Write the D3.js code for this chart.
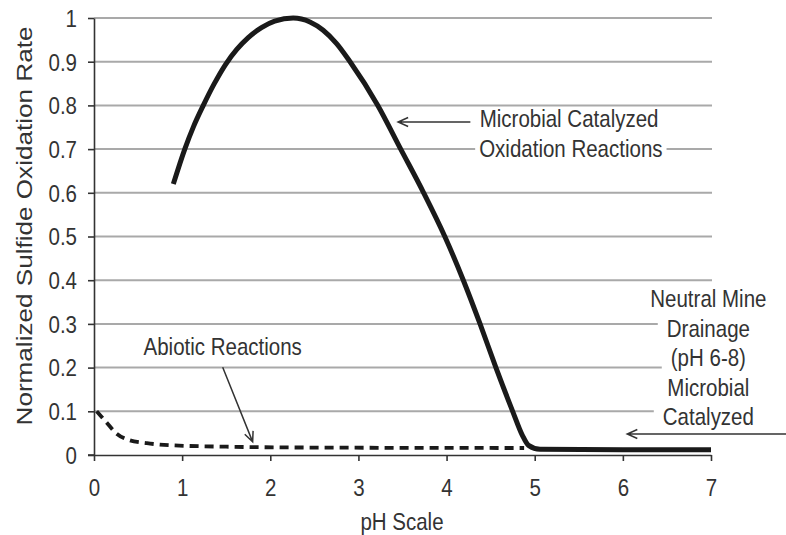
<!DOCTYPE html>
<html><head><meta charset="utf-8">
<script src="https://cdn.jsdelivr.net/npm/d3@7/dist/d3.min.js"></script>
<style>
html,body{margin:0;padding:0;background:#fff;}
svg{display:block;font-family:"Liberation Sans",Arial,Helvetica,sans-serif;}
</style></head>
<body>
<svg id="chart" width="786" height="535"></svg>
<script>
// ---- data ----
const xTicks = [0, 1, 2, 3, 4, 5, 6, 7];
const yTicks = [0, 0.1, 0.2, 0.3, 0.4, 0.5, 0.6, 0.7, 0.8, 0.9, 1];
const yTickLabels = ["0", "0.1", "0.2", "0.3", "0.4", "0.5", "0.6", "0.7", "0.8", "0.9", "1"];
const microbialPH   = [0.9, 1.03, 1.13, 1.24, 1.36, 1.49, 1.62, 1.75, 1.9, 2.05, 2.26, 2.45, 2.6, 2.75, 2.905, 3.22, 3.48, 3.74, 3.98, 4.19, 4.38, 4.56, 4.75, 4.86, 4.93, 5.06, 6.0, 7.0];
const microbialRate = [0.62, 0.70, 0.752, 0.80, 0.848, 0.893, 0.928, 0.955, 0.978, 0.993, 1.0, 0.991, 0.972, 0.942, 0.90, 0.80, 0.70, 0.60, 0.50, 0.40, 0.30, 0.20, 0.10, 0.045, 0.022, 0.013, 0.012, 0.012];
const abioticPH   = [0.03, 0.14, 0.25, 0.4, 0.6, 0.9, 1.5, 2.5, 4.88];
const abioticRate = [0.10, 0.075, 0.05, 0.034, 0.027, 0.022, 0.019, 0.017, 0.016];
const xTitle = "pH Scale";
const yTitle = "Normalized Sulfide Oxidation Rate";
const microbialLabel = ["Microbial Catalyzed", "Oxidation Reactions"];
const neutralLabel = ["Neutral Mine", "Drainage", "(pH 6-8)", "Microbial", "Catalyzed"];
const abioticLabel = "Abiotic Reactions";

// ---- layout ----
const FS = 20.5, SY = 1.15, TXT = "#333";
const svg = d3.select("#chart");
const x = d3.scaleLinear().domain([0, 7]).range([94, 711]);
const y = d3.scaleLinear().domain([0, 1]).range([455, 18]);

// gridlines
svg.append("g").selectAll("line").data(yTicks.filter(d => d > 0)).join("line")
  .attr("x1", x(0)).attr("x2", x(7) + 1)
  .attr("y1", d => y(d)).attr("y2", d => y(d))
  .attr("stroke", "#a9a9a9").attr("stroke-width", 2);

// helper: text line with optional white background, vertically stretched
function label(px, py, str, anchor, pad) {
  const g = svg.append("g").attr("transform", `translate(${px},${py}) scale(1,${SY})`);
  const r = pad != null ? g.append("rect").attr("fill", "#fff") : null;
  const t = g.append("text").attr("text-anchor", anchor).attr("font-size", FS)
    .attr("fill", TXT).text(str);
  if (r) {
    const b = t.node().getBBox();
    r.attr("x", b.x - pad).attr("y", b.y + 2).attr("width", b.width + 2 * pad).attr("height", b.height - 1);
  }
  return g;
}

// annotation texts
label(x(5.39), y(0.751), microbialLabel[0], "middle", null);
label(x(5.41), y(0.682), microbialLabel[1], "middle", 4);
const nbase = [0.339, 0.270, 0.204, 0.135, 0.069];
neutralLabel.forEach((s, i) => label(x(6.97), y(nbase[i]), s, "middle", 9));
label(x(1.46), y(0.229), abioticLabel, "middle", null);

// axes
const ax = svg.append("g").attr("transform", `translate(0,${y(0)})`)
  .call(d3.axisBottom(x).tickValues(xTicks).tickFormat(d3.format("d")).tickSize(6).tickSizeOuter(0));
const ay = svg.append("g").attr("transform", `translate(${x(0)},0)`)
  .call(d3.axisLeft(y).tickValues(yTicks).tickFormat((d, i) => yTickLabels[i]).tickSize(6).tickSizeOuter(0));
[ax, ay].forEach(a => {
  a.select(".domain").attr("stroke", "#333").attr("stroke-width", 1.6);
  a.selectAll(".tick line").attr("stroke", "#333").attr("stroke-width", 1.6);
  a.selectAll("text").attr("font-size", FS).attr("fill", TXT)
    .attr("font-family", '"Liberation Sans",Arial,sans-serif');
});
ax.selectAll("text").attr("dy", null).attr("y", 41 / SY).attr("transform", `scale(1,${SY})`);
ay.selectAll("text").attr("dy", null).attr("x", -17).attr("y", 8.3 / SY).attr("transform", `scale(1,${SY})`);
// domain extends slightly left at origin
svg.append("line").attr("x1", x(0) - 6).attr("x2", x(0)).attr("y1", y(0)).attr("y2", y(0))
  .attr("stroke", "#333").attr("stroke-width", 1.6);

// titles
svg.append("text").attr("transform", `translate(402,530) scale(1,${SY})`)
  .attr("text-anchor", "middle").attr("font-size", FS).attr("fill", TXT).text(xTitle);
svg.append("text").attr("transform", `translate(32,226) scale(1,${SY}) rotate(-90)`)
  .attr("text-anchor", "middle").attr("font-size", 22.7).attr("fill", TXT).text(yTitle);

// series
const line = d3.line().x(d => x(d[0])).y(d => y(d[1])).curve(d3.curveMonotoneX);
svg.append("path").datum(abioticPH.map((p, i) => [p, abioticRate[i]]))
  .attr("d", line).attr("fill", "none").attr("stroke", "#1a1a1a")
  .attr("stroke-width", 3.8).attr("stroke-dasharray", "9,6");
svg.append("path").datum(microbialPH.map((p, i) => [p, microbialRate[i]]))
  .attr("d", line).attr("fill", "none").attr("stroke", "#1a1a1a")
  .attr("stroke-width", 5);

// arrows (in data coordinates)
function arrow(x1, y1, x2, y2) {
  const X1 = x(x1), Y1 = y(y1), X2 = x(x2), Y2 = y(y2);
  const a = Math.atan2(Y2 - Y1, X2 - X1), L = 11, w = 0.42;
  const p1 = [X2 - L * Math.cos(a - w), Y2 - L * Math.sin(a - w)];
  const p2 = [X2 - L * Math.cos(a + w), Y2 - L * Math.sin(a + w)];
  svg.append("path").attr("d", `M${X1},${Y1}L${X2},${Y2}M${p1}L${X2},${Y2}L${p2}`)
    .attr("fill", "none").attr("stroke", "#333").attr("stroke-width", 1.5);
}
arrow(4.27, 0.762, 3.45, 0.762);
arrow(7.9, 0.048, 6.05, 0.048);
arrow(1.46, 0.201, 1.80, 0.030);
</script>
</body></html>
